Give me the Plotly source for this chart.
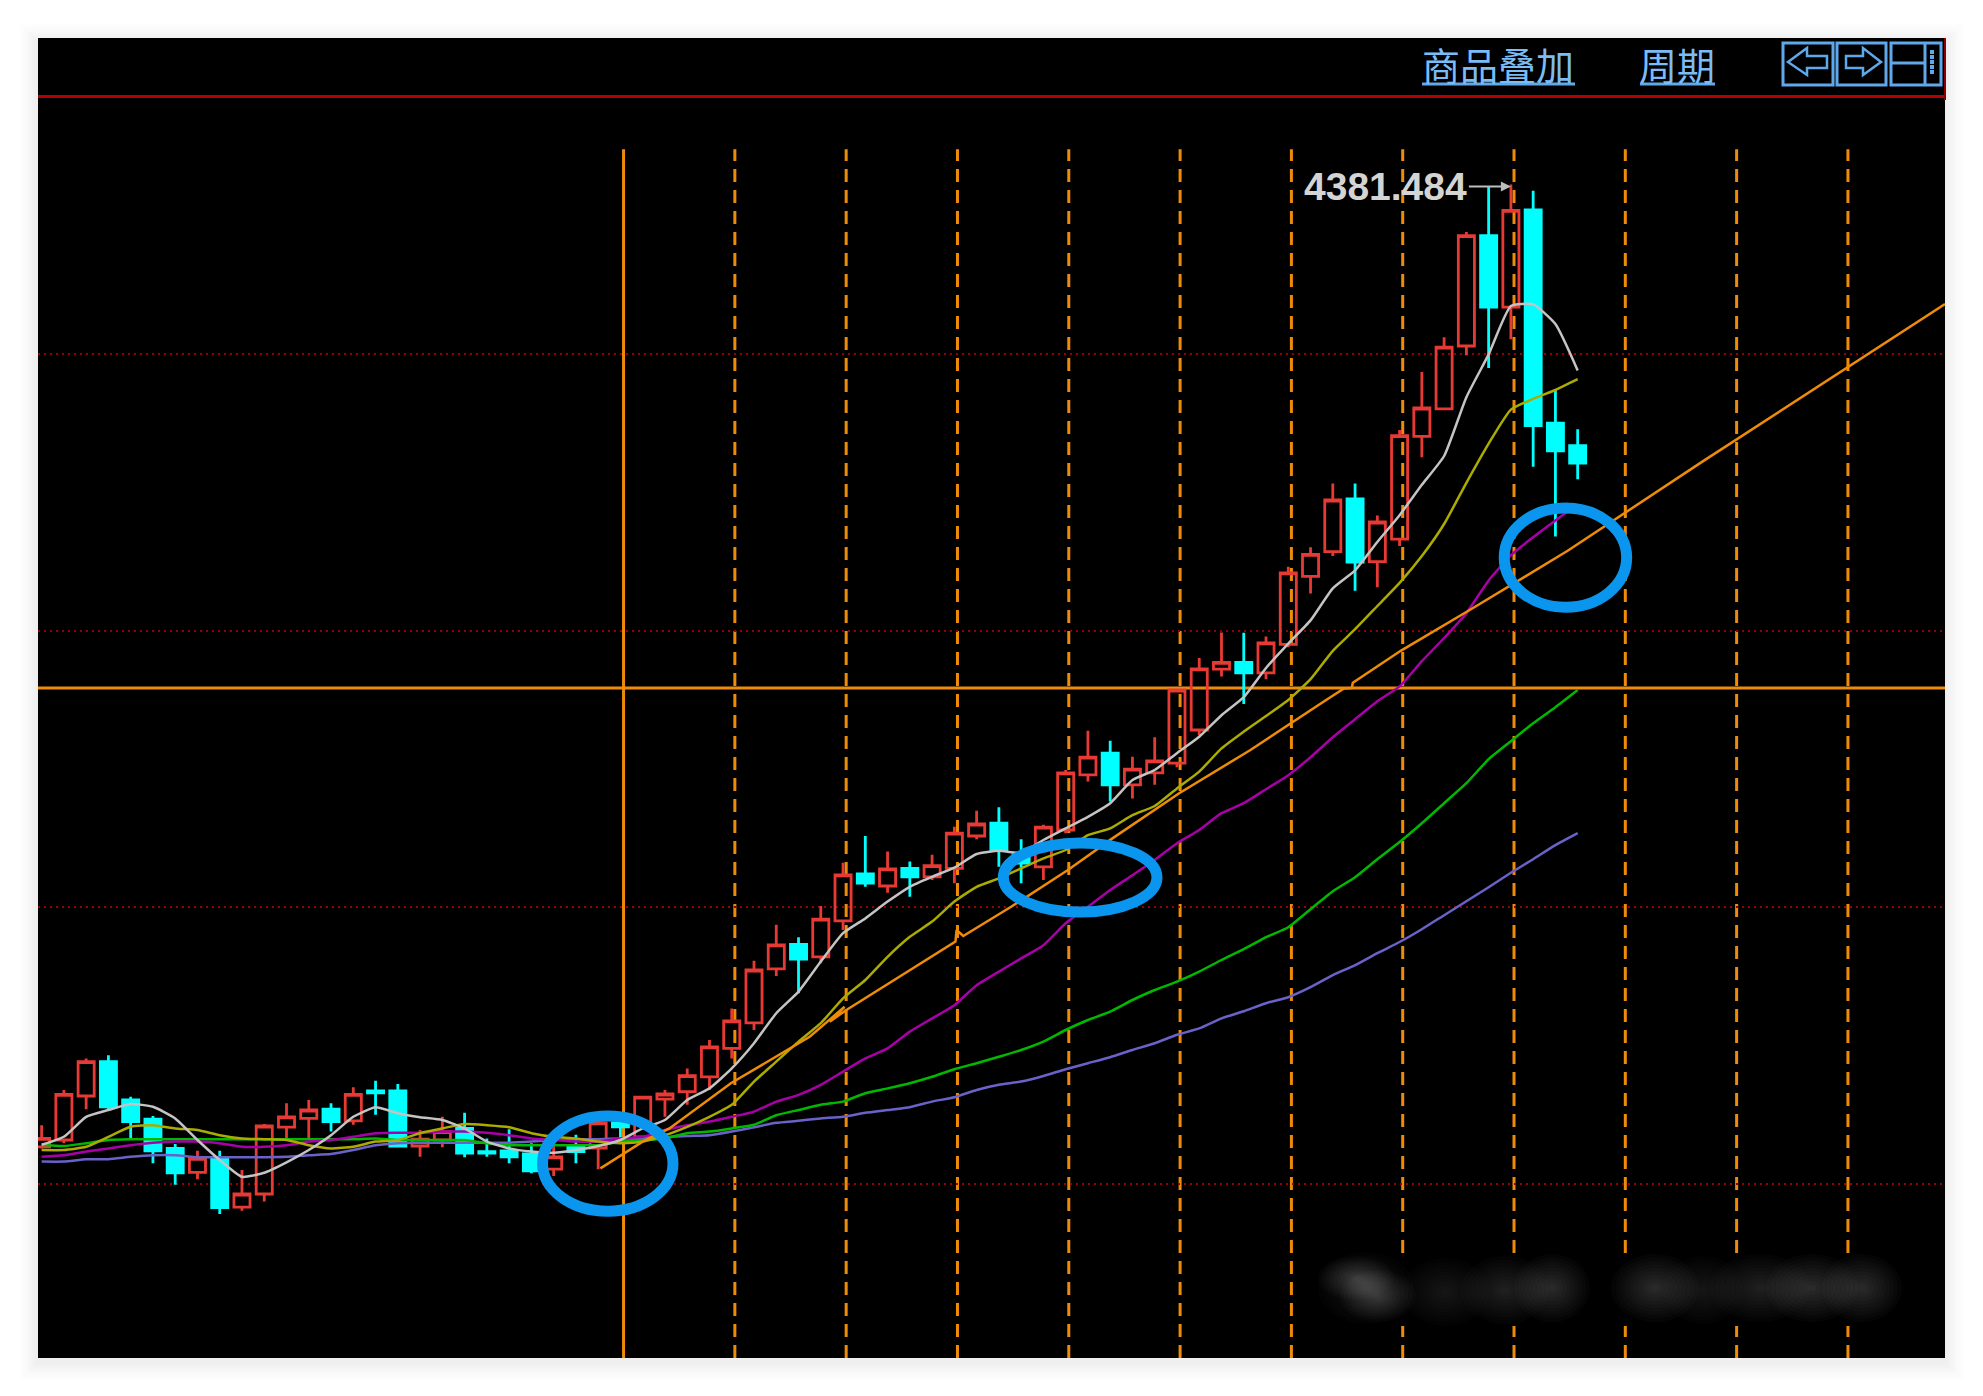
import plotly.graph_objects as go

# ---------- data ----------
bar_index = list(range(-1, 69))
opens = [1976,1993,2103,2189,2093,2045,1972,1912,1945,1825,1858,2025,2047,2070,2041,2116,2116,1978,1993,2022,1964,1966,1958,1920,1976,1973,2036,2001,
         2095,2114,2151,2222,2286,2421,2482,2451,2541,2658,2628,2672,2651,2672,2753,2785,2706,2676,2768,2906,2960,2881,2911,2935,3018,3170,3187,3161,3232,3402,3464,3596,3439,3495,3752,3821,3978,4254,4075,4318,3785,3729]
closes = [1997,2107,2189,2076,2039,1966,1911,1947,1824,1858,2028,2051,2068,2039,2107,2111,1978,1995,2014,1960,1960,1951,1916,1951,1964,2036,2026,2100,
          2108,2154,2226,2291,2418,2481,2445,2545,2656,2635,2671,2651,2679,2760,2783,2718,2685,2775,2911,2950,2881,2920,2941,3118,3171,3187,3161,3236,3411,3457,3593,3438,3538,3754,3823,3975,4254,4075,4317,3779,3716,3685]
highs = [2030,2118,2197,2205,2101,2053,1983,1966,1966,1918,2033,2085,2093,2085,2125,2141,2133,2018,2051,2061,1997,2020,1985,1993,2006,2039,2039,2101,
         2118,2172,2243,2322,2441,2531,2500,2578,2686,2753,2714,2689,2706,2776,2816,2825,2745,2781,2918,3016,2991,2951,3000,3122,3198,3262,3261,3252,3426,3475,3634,3634,3554,3768,3913,4000,4263,4377,4381.484,4366,3868,3770]
lows = [1972,1985,2070,2068,1997,1935,1881,1895,1808,1816,1839,1993,1997,2014,2031,2056,1976,1951,1975,1950,1951,1935,1910,1903,1935,1920,1985,1993,
        2051,2081,2118,2197,2268,2403,2360,2435,2518,2626,2611,2601,2643,2635,2745,2676,2635,2643,2760,2889,2839,2847,2881,2925,3005,3152,3083,3145,3225,3359,3453,3366,3375,3478,3700,3820,3955,3923,3995,3676,3502,3645]

ma_white = [1981,2001,2051,2068,2083,2076,2047,1993,1943,1901,1911,1937,1968,2005,2051,2075,2060,2050,2043,2022,1989,1972,1964,1961,1968,1978,1993,2022,2043,2093,
            2122,2172,2235,2310,2364,2439,2510,2547,2589,2626,2651,2674,2708,2716,2711,2743,2772,2801,2835,2893,2918,2960,3001,3055,3100,3173,3234,3292,3372,3417,3488,3555,3631,3703,3850,3957,4078,4082,4033,3917]
ma_yellow = [1968,1968,1976,2001,2026,2030,2022,2018,2005,1997,1995,1993,1980,1972,1976,1989,1993,2010,2022,2033,2030,2025,2010,2001,1997,1989,1985,1989,2005,2026,
             2051,2081,2139,2189,2239,2285,2347,2393,2451,2501,2539,2589,2626,2647,2672,2697,2718,2755,2772,2805,2828,2872,2914,2972,3014,3053,3093,3145,3216,3270,3328,3386,3453,3533,3636,3734,3819,3846,3868,3895]
ma_magenta = [1951,1955,1964,1972,1980,1986,1989,1989,1985,1976,1976,1980,1989,1993,2001,2010,2011,2011,2014,2014,2011,2005,1997,1993,1989,1989,1997,2001,2018,2030,
              2039,2051,2064,2089,2106,2131,2164,2197,2222,2264,2297,2330,2380,2414,2447,2480,2535,2576,2618,2655,2693,2735,2768,2810,2835,2870,2905,2950,3000,3045,3090,3127,3190,3248,3310,3392,3455,3500,3542,3582]
ma_green = [1981,1978,1985,1993,1995,1995,1995,1995,1995,1995,1995,1995,1995,1995,1995,1997,1993,1993,1993,1993,1985,1980,1980,1980,1980,1980,1989,1993,1997,2010,
            2014,2022,2031,2055,2068,2081,2089,2110,2122,2135,2151,2170,2185,2201,2218,2239,2268,2293,2314,2343,2368,2389,2414,2443,2470,2500,2525,2570,2615,2650,2695,2738,2785,2835,2885,2945,2990,3035,3075,3118]
ma_blue = [1939,1939,1945,1945,1951,1955,1955,1950,1950,1950,1950,1951,1955,1958,1968,1980,1985,1986,1986,1986,1986,1986,1989,1993,1995,1995,1997,1997,2000,2003,
           2005,2014,2025,2036,2041,2047,2051,2061,2068,2075,2089,2100,2118,2131,2139,2153,2170,2185,2200,2218,2235,2256,2272,2297,2315,2335,2350,2375,2405,2430,2460,2488,2520,2555,2590,2625,2661,2695,2730,2760]

trend_x = [24.1,26,27.2,29.96,33.5,35.07,34.4,35.15,40.05,40.1,40.4,42.55,45.1,47.1,50.1,53.3,56.7,57.5,57.85,57.9,60.05,63.3,67.55,70.2,73.6,84.5]
trend_y = [1922,1989,2022,2135,2251,2326,2289,2318,2489,2518,2503,2576,2668,2747,2860,2968,3093,3122,3123,3136,3216,3323,3466,3564,3689,4083]

grid_prices = [3958, 3265.5, 2575.5, 1883]
level_price = 3123
cycle_start = 25.14
cycle_lines = [30.14, 35.14, 40.14, 45.14, 50.14, 55.14, 60.14, 65.14, 70.14, 75.14, 80.14]
cycle_top = 4470
peak_label = "4381.484"
peak_bar = 65
peak_value = 4381.484
circles = [[21.5, 27.36, 1815, 2053], [42.2, 49.1, 2563, 2735.5], [64.7, 70.2, 3325, 3573]]
menu_labels = ["商品叠加", "周期"]

# ---------- layout geometry ----------
W, H = 1983, 1396
L, R, T, B = 38, 1945, 38, 1358
X_RANGE = [-1.163, 84.5]
Y_RANGE = [1448, 4748]
ORANGE = "#ee8c08"
CYAN = "#00ffff"
RED = "#e83a34"
UI = "#5fa8ea"


def px(x):
    return (x - L) / (R - L)


def py(y):
    return (B - y) / (B - T)


shapes = []


def prect(x0, y0, x1, y1, fill=None, line=None, lw=0, layer="above", opacity=None):
    s = dict(type="rect", xref="paper", yref="paper", x0=px(x0), x1=px(x1), y0=py(y1), y1=py(y0), layer=layer,
             line=dict(color=line or "rgba(0,0,0,0)", width=lw))
    if fill:
        s["fillcolor"] = fill
    if opacity is not None:
        s["opacity"] = opacity
    shapes.append(s)


def pline(x0, y0, x1, y1, color, lw, layer="above"):
    shapes.append(dict(type="line", xref="paper", yref="paper", x0=px(x0), x1=px(x1), y0=py(y0), y1=py(y1),
                       layer=layer, line=dict(color=color, width=lw)))


def ppath(points, color, lw):
    d = "M " + " L ".join(f"{px(a):.5f},{py(b):.5f}" for a, b in points) + " Z"
    shapes.append(dict(type="path", xref="paper", yref="paper", path=d, layer="above",
                       line=dict(color=color, width=lw)))


# soft drop shadow, then panel
for grow in (18, 15, 12, 10, 8, 6, 4, 2):
    prect(L - grow, T - grow + 4, R + grow, B + grow + 4, fill="rgba(0,0,0,0.009)", layer="below")
prect(L, T, R, B, fill="#000000", layer="below")

# header rule
pline(L, 96.5, R, 96.5, "#b80000", 3)
pline(R, T, R, 100, "#8a0000", 2)

# cycle lines and levels
shapes.append(dict(type="line", xref="x", yref="y", x0=cycle_start, x1=cycle_start, y0=Y_RANGE[0], y1=cycle_top,
                   layer="below", line=dict(color=ORANGE, width=3)))
for c in cycle_lines:
    shapes.append(dict(type="line", xref="x", yref="y", x0=c, x1=c, y0=Y_RANGE[0], y1=cycle_top, layer="below",
                       line=dict(color=ORANGE, width=3, dash="13px,8px")))
shapes.append(dict(type="line", xref="x", yref="y", x0=X_RANGE[0], x1=X_RANGE[1], y0=level_price, y1=level_price,
                   layer="below", line=dict(color=ORANGE, width=3)))

# hand drawn circles
for c in circles:
    shapes.append(dict(type="circle", xref="x", yref="y", x0=c[0], x1=c[1], y0=c[2], y1=c[3], layer="above",
                       line=dict(color="#0a96ee", width=11)))

# blurred watermark
prect(1321, 1256, 1904, 1326, fill="#000000")
blobs = [(1356, 1278, 38, 22, 0.02), (1378, 1296, 38, 26, 0.02), (1366, 1288, 48, 36, 0.012),
         (1445, 1292, 44, 34, 0.012), (1505, 1290, 44, 34, 0.016), (1552, 1288, 38, 34, 0.018),
         (1655, 1288, 44, 34, 0.018), (1703, 1290, 40, 34, 0.012), (1760, 1288, 50, 34, 0.014), (1812, 1288, 46, 34, 0.018), (1862, 1288, 40, 34, 0.018)]
for bx, by, brx, bry, op in blobs:
    for k in range(10, 0, -1):
        f = k / 10
        shapes.append(dict(type="circle", xref="paper", yref="paper", layer="above",
                           x0=px(bx - brx * f), x1=px(bx + brx * f), y0=py(by + bry * f), y1=py(by - bry * f),
                           fillcolor=f"rgba(255,255,255,{op})", line=dict(width=0)))

# header buttons
prect(1783, 43, 1833, 85, line=UI, lw=3)
prect(1837, 43, 1886, 85, line=UI, lw=3)
prect(1891, 43, 1941, 85, line=UI, lw=3)
ppath([(1788, 62), (1807, 48), (1807, 56), (1827, 56), (1827, 68), (1807, 68), (1807, 75)], UI, 2.5)
ppath([(1881, 62), (1863, 48), (1863, 56), (1846, 56), (1846, 68), (1863, 68), (1863, 75)], UI, 2.5)
pline(1891, 63, 1925, 63, UI, 3)
pline(1925, 43, 1925, 85, UI, 3)
for dy in (52, 57, 62, 67, 72):
    prect(1930, dy - 2, 1934, dy + 2, fill=UI)
pline(1422, 84, 1575, 84, UI, 3)
pline(1640, 84, 1715, 84, UI, 3)

annotations = [
    dict(x=px(1498), y=py(64), xref="paper", yref="paper", text=menu_labels[0], showarrow=False,
         xanchor="center", yanchor="middle",
         font=dict(family="Noto Sans CJK SC", size=38, color="#7cbcf5")),
    dict(x=px(1677), y=py(64), xref="paper", yref="paper", text=menu_labels[1], showarrow=False,
         xanchor="center", yanchor="middle",
         font=dict(family="Noto Sans CJK SC", size=38, color="#7cbcf5")),
    dict(x=peak_bar, y=peak_value, xref="x", yref="y", ax=-42, ay=0, yshift=-2, text=f"<b>{peak_label}</b>", showarrow=True,
         arrowhead=2, arrowsize=1, arrowwidth=2, arrowcolor="#bdbdbd", standoff=0, xanchor="right",
         font=dict(family="Liberation Sans", size=39, color="#d4d4d4")),
]

fig = go.Figure()
fig.add_trace(go.Candlestick(
    x=bar_index, open=opens, high=highs, low=lows, close=closes, whiskerwidth=0,
    increasing=dict(line=dict(color=RED, width=2.8), fillcolor="rgba(0,0,0,0)"),
    decreasing=dict(line=dict(color=CYAN, width=2.8), fillcolor=CYAN),
    showlegend=False))
for ys, col, w in [(ma_blue, "#6a62c8", 2.5), (ma_green, "#00b800", 2.5), (ma_magenta, "#a800a8", 2.5),
                   (ma_yellow, "#abab00", 2.5), (ma_white, "#c4c4c4", 2.5)]:
    fig.add_trace(go.Scatter(x=bar_index, y=ys, mode="lines", line=dict(color=col, width=w, shape="spline", smoothing=0.5),
                             showlegend=False))
fig.add_trace(go.Scatter(x=trend_x, y=trend_y, mode="lines", line=dict(color=ORANGE, width=2.5), showlegend=False))

fig.update_layout(
    width=W, height=H, margin=dict(l=L, r=W - R, t=T, b=H - B, pad=0),
    paper_bgcolor="#ffffff", plot_bgcolor="rgba(0,0,0,0)",
    boxgap=0.15, boxgroupgap=0.15, showlegend=False,
    shapes=shapes, annotations=annotations,
    xaxis=dict(range=X_RANGE, showgrid=False, zeroline=False, showticklabels=False, ticks="", showline=False,
               rangeslider=dict(visible=False), type="linear"),
    yaxis=dict(range=Y_RANGE, tickvals=grid_prices, showgrid=True, griddash="2px,4px", gridcolor="#960000", gridwidth=2,
               zeroline=False, showticklabels=False, ticks="", showline=False),
)
fig.write_html("out.html", post_script="document.body.style.margin='0';", config={"displayModeBar": False})
